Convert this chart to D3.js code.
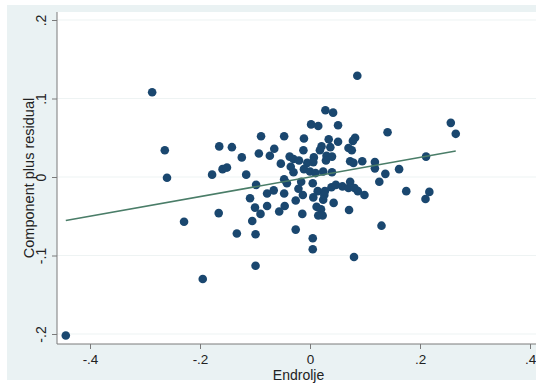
<!DOCTYPE html>
<html>
<head>
<meta charset="utf-8">
<script src="https://cdn.jsdelivr.net/npm/d3@7"></script>
<style>
  html, body { margin: 0; padding: 0; background: #ffffff; }
  svg { display: block; font-family: "Liberation Sans", Arial, sans-serif; }
</style>
</head>
<body>
<svg id="chart" width="536" height="383"></svg>
<script>
// Component-plus-residual plot for Endrolje
const endrolje = [
  -0.444, -0.287, -0.264, -0.260, -0.229, -0.195, -0.178, -0.165, -0.142, -0.159,
  -0.151, -0.166, -0.133, -0.124, -0.116, -0.098, -0.109, -0.100, -0.090, -0.105,
  -0.099, -0.099, -0.089, -0.093, -0.047, -0.065, -0.073, -0.053, -0.037, -0.047,
  -0.042, -0.078, -0.066, -0.047, -0.078, -0.046, -0.056, 0.086, 0.028, 0.042,
  0.002, 0.015, 0.051, -0.011, 0.034, 0.051, 0.082, 0.078, 0.021, 0.018,
  0.037, 0.070, 0.076, -0.012, -0.030, -0.020, -0.005, 0.007, 0.030, 0.040,
  0.029, 0.073, 0.079, 0.095, -0.035, -0.030, -0.011, 0.000, 0.010, 0.024,
  0.040, -0.016, -0.021, 0.005, -0.013, 0.014, 0.027, 0.039, 0.047, 0.059,
  0.073, 0.070, 0.081, 0.087, 0.099, 0.006, 0.024, 0.026, -0.026, 0.043,
  0.012, 0.020, 0.023, 0.015, 0.071, -0.014, -0.026, 0.005, 0.005, 0.080,
  0.141, 0.256, 0.265, 0.118, 0.118, 0.162, 0.211, 0.137, 0.126, 0.175,
  0.217, 0.210, 0.130, 0.006
];
const cpr = [
  -0.202, 0.108, 0.034, -0.001, -0.057, -0.130, 0.003, 0.039, 0.038, 0.010,
  0.012, -0.046, -0.072, 0.025, 0.003, -0.010, -0.027, -0.039, -0.047, -0.056,
  -0.073, -0.113, 0.052, 0.030, 0.052, 0.036, 0.027, 0.017, 0.026, -0.003,
  -0.008, -0.021, -0.017, -0.021, -0.037, -0.037, -0.044, 0.129, 0.085, 0.082,
  0.067, 0.065, 0.066, 0.049, 0.048, 0.045, 0.050, 0.046, 0.039, 0.034,
  0.038, 0.037, 0.034, 0.034, 0.023, 0.021, 0.018, 0.025, 0.027, 0.026,
  0.021, 0.020, 0.018, 0.020, 0.013, 0.006, 0.010, 0.007, 0.005, 0.007,
  0.006, -0.006, -0.015, -0.008, -0.023, -0.018, -0.018, -0.013, -0.010, -0.012,
  -0.006, -0.014, -0.014, -0.018, -0.023, -0.026, -0.029, -0.023, -0.030, -0.033,
  -0.038, -0.041, -0.049, -0.049, -0.042, -0.047, -0.067, -0.078, -0.092, -0.102,
  0.057, 0.069, 0.055, 0.019, 0.011, 0.010, 0.026, 0.004, -0.006, -0.018,
  -0.019, -0.028, -0.062, 0.019
];
const slope = 0.125;           // fitted component coefficient
const xTicks = [-0.4, -0.2, 0, 0.2, 0.4];
const xTickLabels = ["-.4", "-.2", "0", ".2", ".4"];
const yTicks = [-0.2, -0.1, 0, 0.1, 0.2];
const yTickLabels = ["-.2", "-.1", "0", ".1", ".2"];
const xTitle = "Endrolje";
const yTitle = "Component plus residual";

const svg = d3.select("#chart");
const W = 536;
const plot = { left: 57, right: 540, top: 12, bottom: 344 };

const x = d3.scaleLinear().domain([-0.4, 0.4]).range([90, 530]);
const y = d3.scaleLinear().domain([-0.2, 0.2]).range([334, 20]);

// graph region and plot region backgrounds
svg.append("rect").attr("x", 7).attr("y", 5).attr("width", W - 7).attr("height", 375)
  .attr("fill", "#eaf2f3");
svg.append("rect").attr("x", plot.left).attr("y", plot.top)
  .attr("width", plot.right - plot.left).attr("height", plot.bottom - plot.top)
  .attr("fill", "#ffffff");

// horizontal grid lines
svg.append("g").selectAll("line").data(yTicks).join("line")
  .attr("x1", plot.left).attr("x2", plot.right)
  .attr("y1", d => y(d)).attr("y2", d => y(d))
  .attr("stroke", "#eef3f3").attr("stroke-width", 1.2);

// y axis
const yAxis = d3.axisLeft(y).tickValues(yTicks)
  .tickFormat((d, i) => yTickLabels[i]).tickSize(5).tickSizeOuter(0);
const gy = svg.append("g").attr("transform", `translate(${plot.left},0)`).call(yAxis);
gy.select(".domain").attr("d", `M0,${plot.top}V${plot.bottom}`).attr("stroke", "#7a7a7a");
gy.selectAll(".tick line").attr("stroke", "#7a7a7a");
gy.selectAll(".tick text")
  .attr("x", null).attr("dy", null)
  .attr("transform", "translate(-11,0) rotate(-90)")
  .attr("text-anchor", "middle")
  .attr("font-size", 14).attr("fill", "#222");

// x axis
const xAxis = d3.axisBottom(x).tickValues(xTicks)
  .tickFormat((d, i) => xTickLabels[i]).tickSize(5).tickSizeOuter(0);
const gx = svg.append("g").attr("transform", `translate(0,${plot.bottom})`).call(xAxis);
gx.select(".domain").attr("d", `M${plot.left},0H${plot.right}`).attr("stroke", "#7a7a7a");
gx.selectAll(".tick line").attr("stroke", "#7a7a7a");
gx.selectAll(".tick text").attr("y", 20).attr("dy", null)
  .attr("font-size", 13.5).attr("fill", "#222");

// axis titles
svg.append("text").attr("x", (plot.left + plot.right) / 2).attr("y", 380)
  .attr("text-anchor", "middle").attr("font-size", 14).attr("fill", "#222")
  .text(xTitle);
svg.append("text")
  .attr("transform", `translate(34,${(plot.top + plot.bottom) / 2}) rotate(-90)`)
  .attr("text-anchor", "middle").attr("font-size", 14.5).attr("fill", "#222")
  .text(yTitle);

// points
const pts = endrolje.map((v, i) => ({ x: v, y: cpr[i] }));
svg.append("g").selectAll("circle").data(pts).join("circle")
  .attr("cx", d => x(d.x)).attr("cy", d => y(d.y)).attr("r", 4.3)
  .attr("fill", "#1a476f");

// fitted component line
const xExt = d3.extent(endrolje);
svg.append("line")
  .attr("x1", x(xExt[0])).attr("y1", y(slope * xExt[0]))
  .attr("x2", x(xExt[1])).attr("y2", y(slope * xExt[1]))
  .attr("stroke", "#4a7d68").attr("stroke-width", 1.5);
</script>
</body>
</html>
